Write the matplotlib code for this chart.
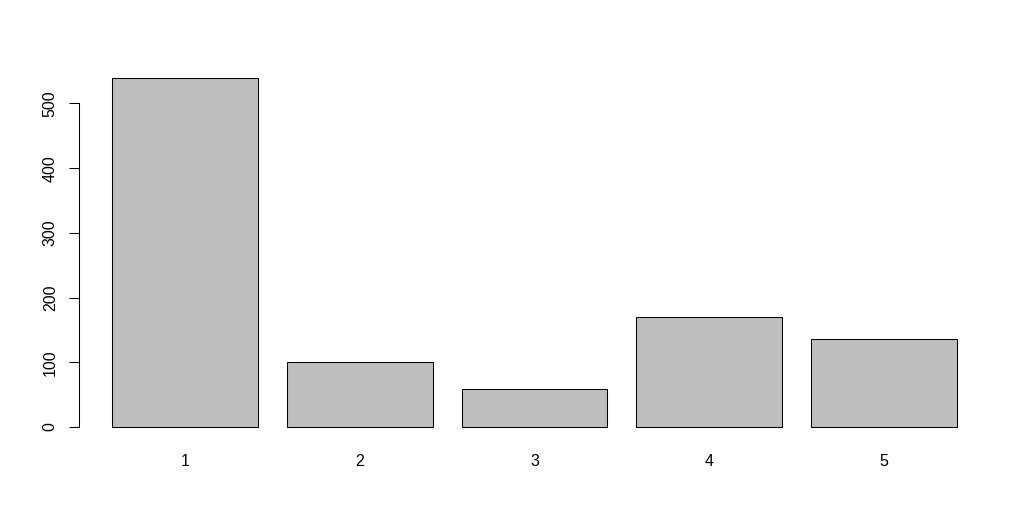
import matplotlib
matplotlib.use('Agg')
import matplotlib.pyplot as plt
import numpy as np

categories = ['1', '2', '3', '4', '5']
values = [539, 100, 59, 170, 136]
yticks = [0, 100, 200, 300, 400, 500]

plt.rcParams['font.family'] = ['Liberation Sans', 'DejaVu Sans']

fig = plt.figure(figsize=(10.31, 5.29), dpi=100)
W, H = 1031, 529
left, right, top, bottom = 78.5, 990.6, 64.3, 441.0
ax = fig.add_axes([left / W, 1 - bottom / H, (right - left) / W, (bottom - top) / H])

# R barplot geometry: width 1, space 0.2
x = 0.2 + np.arange(len(values)) * 1.2 + 0.5
ax.bar(x, values, width=1.0, color='#bebebe', edgecolor='black', linewidth=0.75)

xr = (0.2, 0.2 + 1.2 * len(values) - 0.2)
ext = 0.04 * (xr[1] - xr[0])
ax.set_xlim(xr[0] - ext, xr[1] + ext)
yr = (0, max(values))
ext = 0.04 * (yr[1] - yr[0])
ax.set_ylim(yr[0] - ext, yr[1] + ext)

for s in ['top', 'right', 'bottom']:
    ax.spines[s].set_visible(False)
ax.spines['left'].set_bounds(0, 500)
ax.spines['left'].set_linewidth(0.75)

ax.set_yticks(yticks)
ax.set_yticklabels([str(t) for t in yticks], rotation=90, va='center', fontsize=11.5)
ax.tick_params(axis='y', length=6.9, width=0.75, pad=8)
ax.set_xticks(x)
ax.set_xticklabels(categories, fontsize=11.5)
ax.tick_params(axis='x', length=0, pad=9)

fig.savefig('out.png', dpi=100)
